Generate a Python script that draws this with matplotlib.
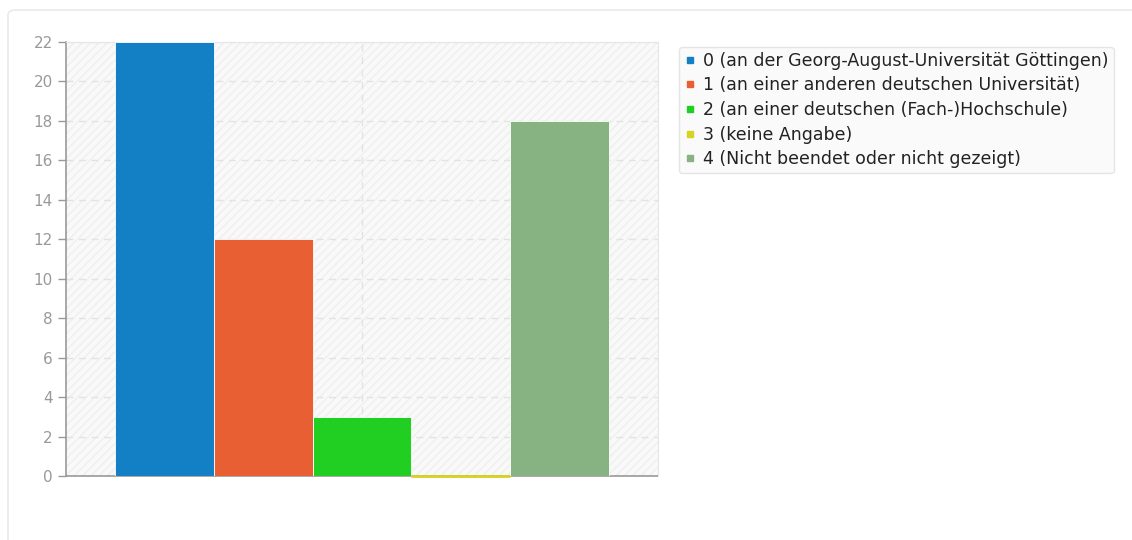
import matplotlib.pyplot as plt
from matplotlib.patches import FancyBboxPatch, Rectangle
from matplotlib.lines import Line2D

# Daten
labels = ["0 (an der Georg-August-Universität Göttingen)",
          "1 (an einer anderen deutschen Universität)",
          "2 (an einer deutschen (Fach-)Hochschule)",
          "3 (keine Angabe)",
          "4 (Nicht beendet oder nicht gezeigt)"]
values = [22, 12, 3, 0, 18]
colors = ["#1380c6", "#e85f33", "#20cf22", "#d7d320", "#87b282"]
yticks = [0, 2, 4, 6, 8, 10, 12, 14, 16, 18, 20, 22]

plt.rcParams['font.family'] = ['DejaVu Sans']

fig = plt.figure(figsize=(11.32, 5.4), dpi=100)

# Rahmen der Karte
card = FancyBboxPatch((8/1132, -0.05), 1.2, 1 - 10/540 + 0.05,
                      boxstyle="round,pad=0,rounding_size=0.008",
                      transform=fig.transFigure, facecolor="white",
                      edgecolor="#e6e6e6", linewidth=1.0, zorder=-1)
fig.patches.append(card)

ax = fig.add_axes([66/1132, 1 - 476/540, 592/1132, 434/540])
ax.set_zorder(1)
ax.set_facecolor("#f9f9f9")
# schraffierter Hintergrund
bg = Rectangle((0, 0), 1, 1, transform=ax.transAxes, facecolor="none",
               edgecolor="#efefef", hatch="////", linewidth=0, zorder=0)
ax.add_patch(bg)

x = [1, 2, 3, 4, 5]
for i in range(len(values)):
    if values[i] > 0:
        ax.bar(x[i], values[i], width=1.0, color=colors[i],
               edgecolor="white", linewidth=0.6, zorder=3)
    else:
        ax.bar(x[i], values[i], width=1.0, color=colors[i],
               edgecolor=colors[i], linewidth=2, zorder=3, clip_on=False)

ax.set_xlim(0, 6)
ax.set_ylim(0, 22)
ax.set_yticks(yticks)
ax.set_xticks([3])
ax.set_xticklabels([""])
ax.tick_params(axis='x', length=0)
ax.tick_params(axis='y', colors="#999999", labelcolor="#999999",
               labelsize=11, length=6, width=1)
ax.grid(True, color="#e3e3e3", linestyle=(0, (5, 4)), linewidth=1, zorder=1)
ax.set_axisbelow(True)
for s in ["top", "right"]:
    ax.spines[s].set_color("#e6e6e6")
for s in ["left", "bottom"]:
    ax.spines[s].set_color("#999999")
    ax.spines[s].set_linewidth(1.2)
    ax.spines[s].set_zorder(2)

handles = [Line2D([], [], marker="s", linestyle="none", markersize=5,
                  markerfacecolor=c, markeredgecolor=c) for c in colors]
leg = fig.legend(handles, labels, loc="upper left",
                 bbox_to_anchor=(670/1132, 1 - 38/540),
                 frameon=True, fontsize=12.5, handlelength=0.7,
                 handletextpad=0.4, labelspacing=0.38, borderpad=0.3,
                 fancybox=True, shadow=False)
leg.get_frame().set_facecolor("#f9f9f9")
leg.get_frame().set_edgecolor("#e0e0e0")
for t in leg.get_texts():
    t.set_color("#222222")

fig.savefig("out.png", dpi=100)
